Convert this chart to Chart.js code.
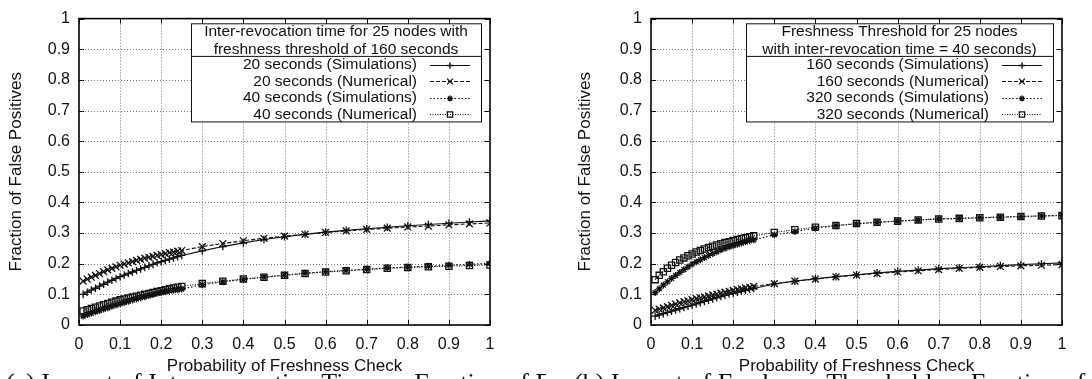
<!DOCTYPE html>
<html>
<head>
<meta charset="utf-8">
<script src="https://cdn.jsdelivr.net/npm/chart.js@4.4.1/dist/chart.umd.min.js"></script>
<style>
  html, body { margin: 0; padding: 0; background: #fff; width: 1092px; height: 379px; overflow: hidden; }
  .panel { position: absolute; top: 0; width: 546px; height: 379px; }
  #panelA { left: 0; }
  #panelB { left: 546px; }
  .capBox { position: absolute; top: 340px; width: 546px; height: 39px; overflow: hidden; }
  #capBoxA { left: 0; }
  #capBoxB { left: 546px; }
  .caption { position: absolute; top: 30px; font-family: "Liberation Serif", "DejaVu Serif", serif;
             font-size: 26px; line-height: 26px; white-space: nowrap; color: #111; }
  #capA { left: 6px; }
  #capB { left: 28px; }
</style>
</head>
<body>
<div class="panel" id="panelA"><canvas id="chartA" width="546" height="379"></canvas></div>
<div class="panel" id="panelB"><canvas id="chartB" width="546" height="379"></canvas></div>
<div class="capBox" id="capBoxA"><div class="caption" id="capA">(a) Impact of Inter-revocation Time on Fraction of False Positives</div></div>
<div class="capBox" id="capBoxB"><div class="caption" id="capB">(b) Impact of Freshness Threshold on Fraction of False Positives</div></div>

<script>
// Probability of freshness check: fine steps up to 0.25, then steps of 0.05
const probCheck = [0.01, 0.02, 0.03, 0.04, 0.05, 0.06, 0.07, 0.08, 0.09, 0.10,
                   0.11, 0.12, 0.13, 0.14, 0.15, 0.16, 0.17, 0.18, 0.19, 0.20,
                   0.21, 0.22, 0.23, 0.24, 0.25,
                   0.30, 0.35, 0.40, 0.45, 0.50, 0.55, 0.60, 0.65, 0.70, 0.75,
                   0.80, 0.85, 0.90, 0.95, 1.00];

// (a) inter-revocation time, freshness threshold 160 s
const sim20 = [0.100, 0.107, 0.114, 0.120, 0.127, 0.133, 0.140, 0.146, 0.152, 0.158,
               0.163, 0.168, 0.173, 0.178, 0.183, 0.188, 0.193, 0.198, 0.203, 0.207,
               0.211, 0.215, 0.219, 0.223, 0.227,
               0.242, 0.256, 0.268, 0.279, 0.288, 0.296, 0.303, 0.309, 0.314, 0.319,
               0.324, 0.328, 0.332, 0.336, 0.340];
const num20 = [0.143, 0.150, 0.156, 0.162, 0.168, 0.174, 0.180, 0.185, 0.190, 0.195,
               0.199, 0.203, 0.207, 0.211, 0.214, 0.218, 0.221, 0.224, 0.227, 0.230,
               0.233, 0.236, 0.238, 0.241, 0.243,
               0.256, 0.266, 0.275, 0.283, 0.290, 0.296, 0.302, 0.307, 0.312, 0.316,
               0.320, 0.323, 0.327, 0.330, 0.333];
const sim40 = [0.029, 0.034, 0.038, 0.043, 0.047, 0.052, 0.056, 0.061, 0.065, 0.069,
               0.073, 0.077, 0.081, 0.085, 0.089, 0.092, 0.096, 0.099, 0.103, 0.106,
               0.109, 0.111, 0.113, 0.115, 0.117,
               0.132, 0.141, 0.149, 0.156, 0.163, 0.169, 0.174, 0.178, 0.182, 0.186,
               0.189, 0.192, 0.195, 0.198, 0.201];
const num40 = [0.046, 0.050, 0.054, 0.058, 0.062, 0.066, 0.070, 0.074, 0.078, 0.082,
               0.085, 0.088, 0.091, 0.094, 0.097, 0.100, 0.103, 0.106, 0.109, 0.112,
               0.115, 0.118, 0.121, 0.123, 0.126,
               0.135, 0.143, 0.150, 0.156, 0.162, 0.168, 0.173, 0.177, 0.181, 0.185,
               0.188, 0.190, 0.192, 0.194, 0.196];

// (b) freshness threshold, inter-revocation time 40 s
const sim160 = [0.029, 0.033, 0.037, 0.041, 0.045, 0.049, 0.053, 0.057, 0.061, 0.065,
                0.069, 0.073, 0.077, 0.081, 0.085, 0.089, 0.093, 0.097, 0.101, 0.104,
                0.107, 0.110, 0.113, 0.116, 0.119,
                0.134, 0.143, 0.151, 0.158, 0.164, 0.170, 0.175, 0.179, 0.184, 0.187,
                0.190, 0.194, 0.197, 0.200, 0.203];
const num160 = [0.048, 0.052, 0.056, 0.060, 0.064, 0.068, 0.072, 0.076, 0.079, 0.083,
                0.086, 0.089, 0.092, 0.095, 0.098, 0.101, 0.104, 0.107, 0.110, 0.113,
                0.116, 0.118, 0.121, 0.123, 0.126,
                0.135, 0.143, 0.150, 0.157, 0.163, 0.168, 0.173, 0.177, 0.181, 0.185,
                0.188, 0.191, 0.193, 0.195, 0.197];
const sim320 = [0.106, 0.118, 0.130, 0.141, 0.152, 0.162, 0.172, 0.181, 0.190, 0.199,
                0.206, 0.213, 0.220, 0.227, 0.233, 0.239, 0.245, 0.250, 0.255, 0.259,
                0.263, 0.267, 0.271, 0.275, 0.278,
                0.294, 0.305, 0.316, 0.324, 0.330, 0.335, 0.339, 0.343, 0.346, 0.348,
                0.350, 0.352, 0.354, 0.356, 0.358];
const num320 = [0.148, 0.162, 0.174, 0.185, 0.195, 0.204, 0.212, 0.219, 0.226, 0.232,
                0.238, 0.243, 0.248, 0.253, 0.257, 0.261, 0.265, 0.269, 0.272, 0.276,
                0.279, 0.282, 0.285, 0.288, 0.291,
                0.302, 0.311, 0.319, 0.325, 0.331, 0.335, 0.339, 0.343, 0.346, 0.348,
                0.350, 0.352, 0.354, 0.356, 0.357];

// Axis ticks and their labels (same on both axes)
const tickValues = [0, 0.1, 0.2, 0.3, 0.4, 0.5, 0.6, 0.7, 0.8, 0.9, 1];
const tickLabels = ['0', '0.1', '0.2', '0.3', '0.4', '0.5', '0.6', '0.7', '0.8', '0.9', '1'];

const seriesLabelsA = ['20 seconds (Simulations)', '20 seconds (Numerical)',
                       '40 seconds (Simulations)', '40 seconds (Numerical)'];
const seriesLabelsB = ['160 seconds (Simulations)', '160 seconds (Numerical)',
                       '320 seconds (Simulations)', '320 seconds (Numerical)'];
const keyTitleA = ['Inter-revocation time for 25 nodes with', 'freshness threshold of 160 seconds'];
const keyTitleB = ['Freshness Threshold for 25 nodes', 'with inter-revocation time = 40 seconds)'];

const SANS = '"Liberation Sans", Arial, Helvetica, sans-serif';
const INK = '#111';

// gnuplot-like line types: solid/+, dashed/x, dotted/*, fine dotted/open square
const lineTypes = [
  { borderDash: [],       pointStyle: 'cross',    pointRadius: 3.8, pointBackgroundColor: INK },
  { borderDash: [4, 2],   pointStyle: 'crossRot', pointRadius: 4.8, pointBackgroundColor: INK },
  { borderDash: [1.5, 2], pointStyle: 'star',     pointRadius: 3.4, pointBackgroundColor: INK },
  { borderDash: [1, 1.5], pointStyle: 'rect',     pointRadius: 4.4, pointBackgroundColor: 'rgba(0,0,0,0)' }
];

function toPoints(ys) {
  return probCheck.map((x, i) => ({ x: x, y: ys[i] }));
}

function makeDatasets(labels, seriesList) {
  return seriesList.map((ys, i) => Object.assign({
    label: labels[i],
    data: toPoints(ys),
    borderColor: INK,
    borderWidth: 1.15,
    pointBorderColor: INK,
    pointBorderWidth: 1.3,
    pointHoverRadius: 0,
    fill: false,
    tension: 0
  }, lineTypes[i]));
}

// Dotted grid, framed border with inward mirrored ticks, boxed key
const gnuplotFrame = {
  id: 'gnuplotFrame',
  beforeDatasetsDraw(chart) {
    const { ctx, chartArea: a, scales: { x, y } } = chart;
    ctx.save();
    ctx.strokeStyle = '#777';
    ctx.lineWidth = 1;
    ctx.setLineDash([1, 2]);
    tickValues.slice(1, -1).forEach(v => {
      const px = Math.round(x.getPixelForValue(v)) + 0.5;
      ctx.beginPath(); ctx.moveTo(px, a.top); ctx.lineTo(px, a.bottom); ctx.stroke();
      const py = Math.round(y.getPixelForValue(v)) + 0.5;
      ctx.beginPath(); ctx.moveTo(a.left, py); ctx.lineTo(a.right, py); ctx.stroke();
    });
    ctx.restore();
  },
  afterDatasetsDraw(chart, args, opts) {
    const { ctx, chartArea: a, scales: { x, y } } = chart;
    ctx.save();
    // key box
    const right = a.right - opts.inset;
    const left = right - opts.width;
    const top = a.top + opts.top;
    const sep = top + 32.6;
    const rowH = 16.45;
    const n = chart.data.datasets.length;
    const bottom = sep + 9 + (n - 1) * rowH + 7.2;
    ctx.fillStyle = '#fff';
    ctx.fillRect(left, top, right - left, bottom - top);
    ctx.strokeStyle = INK;
    ctx.lineWidth = 1;
    ctx.setLineDash([]);
    ctx.strokeRect(left + 0.5, top + 0.5, right - left, bottom - top);
    ctx.beginPath(); ctx.moveTo(left, sep + 0.5); ctx.lineTo(right, sep + 0.5); ctx.stroke();
    ctx.fillStyle = INK;
    ctx.font = '15.5px ' + SANS;
    ctx.textBaseline = 'middle';
    ctx.textAlign = 'center';
    opts.title.forEach((t, i) => ctx.fillText(t, (left + right) / 2, top + 8.8 + i * 17.6));
    chart.data.datasets.forEach((ds, i) => {
      const cy = sep + 9 + i * rowH;
      ctx.textAlign = 'right';
      ctx.fillStyle = INK;
      ctx.fillText(ds.label, right - 64, cy);
      const x0 = right - opts.sampleLeft, x1 = right - opts.sampleRight;
      ctx.strokeStyle = INK;
      ctx.lineWidth = 1.15;
      ctx.setLineDash(ds.borderDash);
      ctx.beginPath(); ctx.moveTo(x0, Math.round(cy) + 0.5); ctx.lineTo(x1, Math.round(cy) + 0.5); ctx.stroke();
      ctx.setLineDash([]);
      ctx.lineWidth = 1.3;
      ctx.fillStyle = ds.pointBackgroundColor;
      Chart.helpers.drawPoint(ctx, { pointStyle: ds.pointStyle, radius: ds.pointRadius * 0.85, rotation: 0,
                                     borderWidth: 1.3 }, (x0 + x1) / 2, Math.round(cy) + 0.5);
    });
    // border and inward ticks on all four sides
    ctx.strokeStyle = '#000';
    ctx.lineWidth = 1.6;
    ctx.setLineDash([]);
    ctx.strokeRect(a.left, a.top, a.right - a.left, a.bottom - a.top);
    ctx.lineWidth = 1;
    const tl = 5;
    tickValues.forEach(v => {
      const px = Math.round(x.getPixelForValue(v)) + 0.5;
      ctx.beginPath();
      ctx.moveTo(px, a.bottom); ctx.lineTo(px, a.bottom - tl);
      ctx.moveTo(px, a.top); ctx.lineTo(px, a.top + tl);
      const py = Math.round(y.getPixelForValue(v)) + 0.5;
      ctx.moveTo(a.left, py); ctx.lineTo(a.left + tl, py);
      ctx.moveTo(a.right, py); ctx.lineTo(a.right - tl, py);
      ctx.stroke();
    });
    ctx.restore();
  }
};

function axisOptions(isX, yWidth) {
  return {
    type: 'linear',
    min: 0,
    max: 1,
    grid: { display: false, drawTicks: false },
    border: { display: false },
    afterBuildTicks: s => { s.ticks = tickValues.map(v => ({ value: v })); },
    afterFit: s => { if (isX) { s.height = 54; } else { s.width = yWidth; } },
    ticks: {
      autoSkip: false,
      maxRotation: 0,
      padding: isX ? 10 : 9,
      color: INK,
      font: { family: SANS, size: 16 },
      callback: v => tickLabels[tickValues.indexOf(Math.round(v * 10) / 10)]
    },
    title: {
      display: true,
      text: isX ? 'Probability of Freshness Check' : 'Fraction of False Positives',
      color: INK,
      font: { family: SANS, size: 17 },
      padding: isX ? { top: 0, bottom: 2.8 } : { top: 6, bottom: 0 }
    }
  };
}

function makeChart(id, labels, seriesList, keyTitle, keyWidth, padLeft, yWidth, padRight) {
  return new Chart(document.getElementById(id), {
    type: 'line',
    data: { datasets: makeDatasets(labels, seriesList) },
    options: {
      responsive: false,
      animation: false,
      devicePixelRatio: 1,
      layout: { padding: { left: padLeft, right: padRight, top: 16, bottom: 0 } },
      scales: { x: axisOptions(true), y: axisOptions(false, yWidth) },
      plugins: {
        legend: { display: false },
        tooltip: { enabled: false },
        gnuplotFrame: { title: keyTitle, width: keyWidth, inset: 9, top: 4.7,
                        sampleLeft: 51, sampleRight: 11 }
      }
    },
    plugins: [gnuplotFrame]
  });
}

makeChart('chartA', seriesLabelsA, [sim20, num20, sim40, num40], keyTitleA, 290, 0, 79, 56);
makeChart('chartB', seriesLabelsB, [sim160, num160, sim320, num320], keyTitleB, 307, 23, 82, 30);
</script>
</body>
</html>
